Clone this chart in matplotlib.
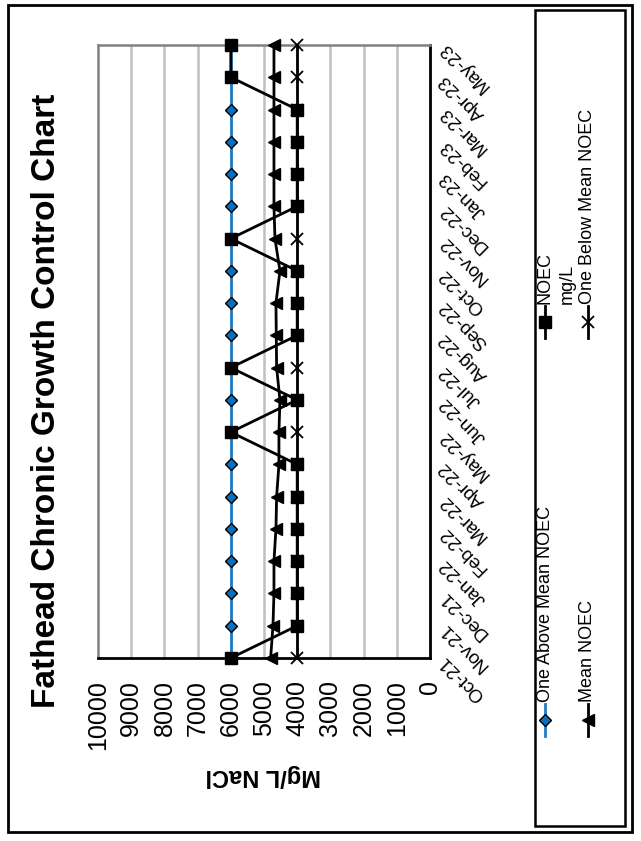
import matplotlib
matplotlib.use("Agg")
import matplotlib.pyplot as plt
import matplotlib.patches as patches

plt.rcParams["font.family"] = ["Liberation Sans", "DejaVu Sans"]

# monthly test results, mg/L NaCl
months = ["Oct-21", "Nov-21", "Dec-21", "Jan-22", "Feb-22", "Mar-22", "Apr-22",
          "May-22", "Jun-22", "Jul-22", "Aug-22", "Sep-22", "Oct-22", "Nov-22",
          "Dec-22", "Jan-23", "Feb-23", "Mar-23", "Apr-23", "May-23"]
noec = [6000, 4000, 4000, 4000, 4000, 4000, 4000, 6000, 4000, 6000,
        4000, 4000, 4000, 6000, 4000, 4000, 4000, 4000, 6000, 6000]
mean_noec = [4800, 4730, 4700, 4700, 4640, 4620, 4550, 4550, 4520, 4620,
             4630, 4640, 4520, 4670, 4700, 4700, 4700, 4700, 4700, 4700]
one_above = [6000] * 20
one_below = [4000] * 20
value_ticks = list(range(0, 10001, 1000))

W, H = 641, 841
fig = plt.figure(figsize=(W / 100, H / 100), dpi=100)
fig.patch.set_facecolor("white")

# the whole chart is laid on its side: values run right-to-left, months bottom-to-top
ax = fig.add_axes([98 / W, 1 - 658 / H, 332 / W, 613 / H])
ax.set_xlim(10000, 0)
ax.set_ylim(0, len(months) - 1)

for v in value_ticks[1:-1]:
    ax.axvline(v, color="#C0C0C0", lw=1.8, zorder=0)

ax.spines["top"].set_color("#808080")
ax.spines["left"].set_color("#808080")
ax.spines["top"].set_linewidth(1.8)
ax.spines["left"].set_linewidth(1.8)
ax.spines["right"].set_color("black")
ax.spines["bottom"].set_color("black")
ax.spines["right"].set_linewidth(2)
ax.spines["bottom"].set_linewidth(2)

pos = list(range(len(months)))
ax.plot(one_above, pos, color="#1F7BC4", lw=2, marker="D", ms=6,
        mfc="#0B6FC0", mec="black", mew=1, clip_on=False, zorder=3)
ax.plot(one_below, pos, color="black", lw=2, marker="x", ms=9,
        mew=1.3, clip_on=False, zorder=3)
ax.plot(mean_noec, pos, color="black", lw=2, marker="<", ms=9,
        mfc="black", mec="black", clip_on=False, zorder=4)
ax.plot(noec, pos, color="black", lw=2, marker="s", ms=8.5,
        mfc="black", mec="black", clip_on=False, zorder=5)

ax.set_xticks(value_ticks)
ax.set_xticklabels([str(v) for v in value_ticks], rotation=90, fontsize=18)
ax.tick_params(axis="x", length=0, pad=16)

ax.yaxis.tick_right()
ax.set_yticks(pos)
ax.set_yticklabels(months, fontsize=13.5, rotation=135,
                   rotation_mode="anchor", ha="right", va="center")
ax.tick_params(axis="y", length=0, pad=9)

# overlay in pixel units for frame, titles and the side legend
ov = fig.add_axes([0, 0, 1, 1], zorder=-1)
ov.set_xlim(0, W)
ov.set_ylim(H, 0)
ov.axis("off")
ov.add_patch(patches.Rectangle((8, 5), 624, 827, fill=False, ec="black", lw=2))
ov.add_patch(patches.Rectangle((535, 10), 90, 816, fill=False, ec="black", lw=1.8))

top = fig.add_axes([0, 0, 1, 1], zorder=10)
top.set_xlim(0, W)
top.set_ylim(H, 0)
top.axis("off")
top.patch.set_alpha(0)

top.text(47, 401, "Fathead Chronic Growth Control Chart", rotation=90,
         ha="center", va="center", fontsize=24, fontweight="bold")
top.text(263, 776, "Mg/L NaCl", rotation=180, ha="center", va="center",
         fontsize=17, fontweight="bold")

legend_items = [
    (545, 720, "One Above Mean NOEC",
     dict(color="#1F7BC4", marker="D", ms=6, mfc="#0B6FC0", mec="black")),
    (588, 720, "Mean NOEC", dict(color="black", marker="<", ms=9)),
    (545, 322, "NOEC", dict(color="black", marker="s", ms=8.5)),
    (588, 322, "One Below Mean NOEC", dict(color="black", marker="x", ms=9, mew=1.3)),
]
for lx, ly, label, style in legend_items:
    # short sample line with a single marker in its middle
    top.plot([lx, lx, lx], [ly + 16, ly, ly - 16], lw=2, markevery=[1], **style)
    top.text(lx, ly - 18, label, rotation=90, ha="center", va="bottom", fontsize=13)
top.text(567, 304, "mg/L", rotation=90, ha="center", va="bottom", fontsize=13)

fig.savefig("out.png", dpi=100)
